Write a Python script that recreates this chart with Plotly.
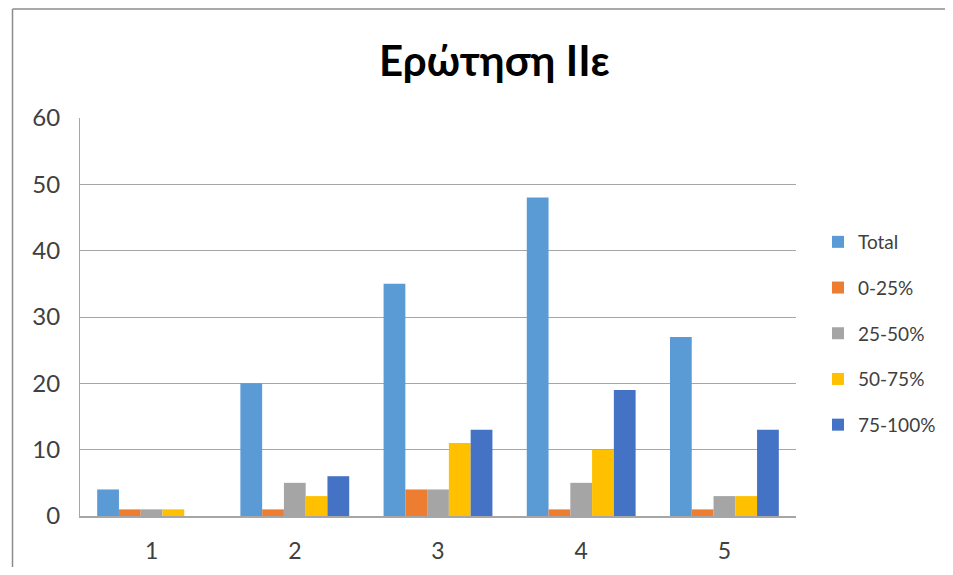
import plotly.graph_objects as go

categories = ["1", "2", "3", "4", "5"]
series_names = ["Total", "0-25%", "25-50%", "50-75%", "75-100%"]
total = [4, 20, 35, 48, 27]
p0_25 = [1, 1, 4, 1, 1]
p25_50 = [1, 5, 4, 5, 3]
p50_75 = [1, 3, 11, 10, 3]
p75_100 = [0, 6, 13, 19, 13]
y_ticks = [0, 10, 20, 30, 40, 50, 60]

values = [total, p0_25, p25_50, p50_75, p75_100]
colors = ["#5B9BD5", "#ED7D31", "#A5A5A5", "#FFC000", "#4472C4"]

OFF = 8  # page body margin
W, H = 937, 559
L, R, T, B = 80 - OFF, 796 - OFF, 118 - OFF, 516 - OFF

fig = go.Figure()
for i, (name, vals, col) in enumerate(zip(series_names, values, colors)):
    fig.add_trace(go.Bar(
        x=categories, y=vals, name=name, marker_color=col,
        marker_line_width=0, legendgroup=f"g{i}",
    ))

def px_x(p):
    return (p - OFF - L) / (R - L)

def px_y(p):
    return (B - (p - OFF)) / (B - T)

fig.update_layout(
    width=W, height=H,
    margin=dict(l=L, r=W - R, t=T, b=H - B, autoexpand=False),
    paper_bgcolor="white", plot_bgcolor="white",
    barmode="group", bargap=0.24, bargroupgap=0,
    font=dict(family="Lato, Open Sans, sans-serif", color="#404040"),
    showlegend=True,
    legend=dict(
        x=px_x(818), y=px_y(223), xanchor="left", yanchor="top",
        font=dict(size=19, color="#404040"),
        tracegroupgap=18, itemwidth=30, bgcolor="rgba(0,0,0,0)",
    ),
    xaxis=dict(
        type="category", showgrid=False, showline=True, linecolor="#A6A6A6",
        linewidth=1.5, ticks="", tickfont=dict(size=23, color="#404040"),
        ticklabelstandoff=14,
    ),
    yaxis=dict(
        range=[0, 60], tickvals=y_ticks, showgrid=True, gridcolor="#A6A6A6",
        gridwidth=1, showline=True, linecolor="#A6A6A6", linewidth=1,
        zeroline=False, ticks="", tickfont=dict(size=24, color="#404040"),
        ticklabelstandoff=14,
    ),
)

fig.add_annotation(
    text="<b>Ερώτηση IIε</b>", xref="paper", yref="paper",
    x=px_x(494), y=px_y(60), xanchor="center", yanchor="middle",
    showarrow=False, font=dict(size=42, color="black", family="Lato, Open Sans, sans-serif"),
)

# chart frame (top and left edges)
fig.add_shape(type="line", xref="paper", yref="paper",
              x0=px_x(12.5), x1=px_x(W + 40), y0=px_y(OFF + 1), y1=px_y(OFF + 1),
              line=dict(color="#8C8C8C", width=1.5))
fig.add_shape(type="line", xref="paper", yref="paper",
              x0=px_x(12.5), x1=px_x(12.5), y0=px_y(OFF + 1), y1=px_y(H + 40),
              line=dict(color="#8C8C8C", width=1.5))

fig.write_html("out.html")
